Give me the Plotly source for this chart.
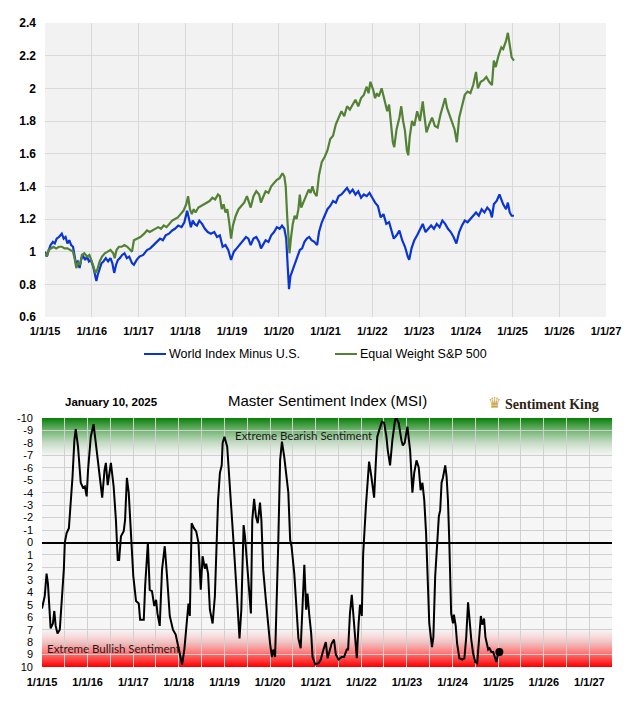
import plotly.graph_objects as go
from datetime import datetime, timedelta

W, H = 640, 701

# ---------------- data (decimal years) ----------------
world_t = [2015.00, 2015.04, 2015.08, 2015.12, 2015.17, 2015.21, 2015.25, 2015.30, 2015.36, 2015.40,
           2015.44, 2015.48, 2015.52, 2015.56, 2015.60, 2015.63, 2015.66, 2015.70, 2015.74, 2015.78,
           2015.82, 2015.86, 2015.90, 2015.94, 2015.98, 2016.03, 2016.07, 2016.10, 2016.13, 2016.17,
           2016.21, 2016.25, 2016.30, 2016.35, 2016.40, 2016.44, 2016.48, 2016.52, 2016.56, 2016.60,
           2016.65, 2016.70, 2016.75, 2016.80, 2016.86, 2016.90, 2016.96, 2017.02, 2017.10, 2017.18,
           2017.25, 2017.32, 2017.40, 2017.46, 2017.52, 2017.58, 2017.65, 2017.72, 2017.78, 2017.85,
           2017.92, 2017.98, 2018.04, 2018.08, 2018.12, 2018.16, 2018.20, 2018.25, 2018.30, 2018.36,
           2018.42, 2018.48, 2018.55, 2018.62, 2018.68, 2018.74, 2018.80, 2018.86, 2018.92, 2018.98,
           2019.04, 2019.10, 2019.16, 2019.22, 2019.30, 2019.35, 2019.40, 2019.46, 2019.52, 2019.58,
           2019.62, 2019.66, 2019.72, 2019.78, 2019.84, 2019.90, 2019.96, 2020.02, 2020.07, 2020.12,
           2020.16, 2020.19, 2020.22, 2020.25, 2020.30, 2020.35, 2020.40, 2020.45, 2020.50, 2020.55,
           2020.60, 2020.65, 2020.70, 2020.76, 2020.82, 2020.86, 2020.92, 2020.98, 2021.04, 2021.10,
           2021.16, 2021.22, 2021.28, 2021.34, 2021.40, 2021.46, 2021.52, 2021.58, 2021.64, 2021.70,
           2021.76, 2021.82, 2021.88, 2021.94, 2022.00, 2022.06, 2022.12, 2022.18, 2022.24, 2022.30,
           2022.36, 2022.42, 2022.46, 2022.52, 2022.58, 2022.64, 2022.70, 2022.76, 2022.79, 2022.84,
           2022.90, 2022.96, 2023.02, 2023.08, 2023.14, 2023.20, 2023.26, 2023.32, 2023.38, 2023.44,
           2023.50, 2023.56, 2023.62, 2023.68, 2023.74, 2023.80, 2023.86, 2023.92, 2023.98, 2024.04,
           2024.10, 2024.16, 2024.22, 2024.28, 2024.34, 2024.40, 2024.46, 2024.52, 2024.56, 2024.60,
           2024.66, 2024.72, 2024.76, 2024.80, 2024.86, 2024.90, 2024.94, 2024.98, 2025.03]
world_v = [1.00, 0.97, 1.01, 1.04, 1.06, 1.05, 1.08, 1.09, 1.11, 1.08,
           1.09, 1.05, 1.07, 1.04, 1.03, 0.98, 0.93, 0.94, 0.90, 0.96,
           0.97, 0.95, 0.97, 0.94, 0.95, 0.91, 0.86, 0.82, 0.86, 0.90,
           0.93, 0.94, 0.96, 0.94, 0.96, 0.93, 0.87, 0.92, 0.95, 0.96,
           0.98, 0.99, 0.96, 0.97, 0.93, 0.92, 0.95, 0.97, 0.98, 1.01,
           1.02, 1.04, 1.06, 1.08, 1.07, 1.10, 1.11, 1.13, 1.14, 1.16,
           1.15, 1.18, 1.25, 1.20, 1.15, 1.19, 1.17, 1.16, 1.19, 1.17,
           1.14, 1.12, 1.11, 1.12, 1.09, 1.10, 1.03, 1.04, 1.01, 0.95,
           1.00, 1.02, 1.04, 1.06, 1.09, 1.08, 1.04, 1.08, 1.09, 1.06,
           1.02, 1.04, 1.07, 1.06, 1.10, 1.12, 1.15, 1.14, 1.16, 1.14,
           1.08, 0.92, 0.77, 0.85, 0.89, 0.93, 0.96, 1.01, 1.02, 1.06,
           1.08, 1.09, 1.07, 1.06, 1.04, 1.12, 1.18, 1.22, 1.26, 1.28,
           1.31, 1.30, 1.34, 1.35, 1.37, 1.39, 1.36, 1.38, 1.35, 1.37,
           1.33, 1.35, 1.34, 1.36, 1.33, 1.30, 1.28, 1.21, 1.23, 1.17,
           1.18, 1.12, 1.08, 1.10, 1.13, 1.07, 1.03, 0.97, 0.95, 1.02,
           1.07, 1.10, 1.14, 1.17, 1.12, 1.14, 1.16, 1.14, 1.17, 1.15,
           1.19, 1.17, 1.14, 1.12, 1.09, 1.05, 1.12, 1.16, 1.19, 1.18,
           1.20, 1.22, 1.24, 1.22, 1.26, 1.24, 1.27, 1.25, 1.21, 1.29,
           1.31, 1.35, 1.32, 1.29, 1.26, 1.30, 1.24, 1.22, 1.22]

ew_t = [2015.00, 2015.04, 2015.08, 2015.13, 2015.18, 2015.24, 2015.30, 2015.36, 2015.42, 2015.48,
        2015.54, 2015.60, 2015.64, 2015.67, 2015.71, 2015.75, 2015.79, 2015.84, 2015.90, 2015.95,
        2016.00, 2016.04, 2016.08, 2016.12, 2016.17, 2016.22, 2016.28, 2016.34, 2016.40, 2016.46,
        2016.49, 2016.53, 2016.58, 2016.64, 2016.70, 2016.76, 2016.82, 2016.86, 2016.90, 2016.96,
        2017.04, 2017.12, 2017.18, 2017.24, 2017.30, 2017.36, 2017.42, 2017.48, 2017.54, 2017.60,
        2017.66, 2017.72, 2017.78, 2017.84, 2017.90, 2017.96, 2018.02, 2018.06, 2018.10, 2018.14,
        2018.18, 2018.22, 2018.28, 2018.34, 2018.40, 2018.46, 2018.52, 2018.58, 2018.64, 2018.70,
        2018.74, 2018.78, 2018.82, 2018.86, 2018.90, 2018.94, 2018.98, 2019.02, 2019.08, 2019.14,
        2019.20, 2019.26, 2019.32, 2019.36, 2019.40, 2019.46, 2019.52, 2019.58, 2019.62, 2019.66,
        2019.72, 2019.78, 2019.84, 2019.90, 2019.96, 2020.02, 2020.08, 2020.12, 2020.15, 2020.18,
        2020.21, 2020.23, 2020.26, 2020.30, 2020.34, 2020.38, 2020.42, 2020.45, 2020.48, 2020.52,
        2020.58, 2020.64, 2020.68, 2020.72, 2020.76, 2020.81, 2020.86, 2020.92, 2020.98, 2021.04,
        2021.10, 2021.16, 2021.22, 2021.28, 2021.34, 2021.40, 2021.46, 2021.52, 2021.58, 2021.64,
        2021.70, 2021.76, 2021.82, 2021.88, 2021.92, 2021.96, 2022.02, 2022.06, 2022.10, 2022.14,
        2022.20, 2022.26, 2022.32, 2022.36, 2022.40, 2022.44, 2022.47, 2022.52, 2022.58, 2022.62,
        2022.66, 2022.70, 2022.74, 2022.77, 2022.80, 2022.85, 2022.90, 2022.96, 2023.02, 2023.08,
        2023.12, 2023.16, 2023.22, 2023.28, 2023.34, 2023.40, 2023.46, 2023.52, 2023.56, 2023.60,
        2023.64, 2023.70, 2023.76, 2023.81, 2023.86, 2023.92, 2023.98, 2024.04, 2024.10, 2024.16,
        2024.22, 2024.26, 2024.32, 2024.38, 2024.44, 2024.50, 2024.56, 2024.60, 2024.64, 2024.70,
        2024.76, 2024.80, 2024.86, 2024.90, 2024.94, 2024.98, 2025.03]
ew_v = [0.99, 0.97, 1.01, 1.02, 1.03, 1.02, 1.03, 1.03, 1.02, 1.02,
        1.01, 1.00, 0.95, 0.90, 0.93, 0.92, 0.98, 0.99, 0.97, 0.98,
        0.94, 0.90, 0.87, 0.89, 0.94, 0.97, 0.99, 1.00, 1.01, 0.99,
        0.96, 1.01, 1.03, 1.03, 1.04, 1.03, 1.01, 1.00, 1.07, 1.08,
        1.09, 1.11, 1.13, 1.12, 1.13, 1.14, 1.15, 1.14, 1.16, 1.15,
        1.17, 1.19, 1.20, 1.21, 1.23, 1.25, 1.29, 1.34, 1.26, 1.23,
        1.26, 1.24, 1.27, 1.28, 1.29, 1.30, 1.31, 1.33, 1.32, 1.35,
        1.34, 1.26, 1.29, 1.24, 1.26, 1.18, 1.08, 1.16, 1.22, 1.26,
        1.28, 1.30, 1.34, 1.31, 1.27, 1.34, 1.37, 1.35, 1.30, 1.33,
        1.37, 1.36, 1.40, 1.42, 1.44, 1.45, 1.48, 1.46, 1.40, 1.22,
        1.05, 0.99, 1.08, 1.17, 1.22, 1.20, 1.26, 1.35, 1.27, 1.30,
        1.34, 1.38, 1.36, 1.40, 1.36, 1.34, 1.47, 1.55, 1.58, 1.62,
        1.69, 1.71, 1.78, 1.82, 1.86, 1.83, 1.89, 1.87, 1.90, 1.93,
        1.89, 1.94, 1.96, 2.01, 1.97, 2.04, 1.99, 1.94, 1.97, 1.95,
        2.00, 1.92, 1.86, 1.90, 1.78, 1.67, 1.64, 1.75, 1.82, 1.89,
        1.80, 1.74, 1.62, 1.59, 1.70, 1.80, 1.77, 1.86, 1.80, 1.92,
        1.82, 1.73, 1.78, 1.82, 1.77, 1.76, 1.84, 1.90, 1.94, 1.88,
        1.85, 1.80, 1.75, 1.67, 1.82, 1.89, 1.96, 1.98, 1.97, 2.02,
        2.10, 2.00, 2.04, 2.05, 2.07, 2.04, 2.02, 2.17, 2.13, 2.20,
        2.25, 2.24, 2.29, 2.34, 2.27, 2.19, 2.17]

msi_t = [2015.00, 2015.06, 2015.10, 2015.13, 2015.19, 2015.24, 2015.27, 2015.30, 2015.34, 2015.39,
         2015.44, 2015.48, 2015.50, 2015.54, 2015.59, 2015.62, 2015.67, 2015.71, 2015.74, 2015.79,
         2015.85, 2015.90, 2015.94, 2015.98, 2016.01, 2016.07, 2016.13, 2016.16, 2016.22, 2016.27,
         2016.32, 2016.37, 2016.40, 2016.44, 2016.48, 2016.51, 2016.57, 2016.62, 2016.66, 2016.69,
         2016.73, 2016.79, 2016.82, 2016.86, 2016.90, 2016.95, 2017.00, 2017.06, 2017.12, 2017.15,
         2017.23, 2017.26, 2017.32, 2017.36, 2017.41, 2017.46, 2017.50, 2017.53, 2017.58, 2017.63,
         2017.69, 2017.74, 2017.80, 2017.87, 2017.93, 2018.00, 2018.07, 2018.12, 2018.18, 2018.21,
         2018.24, 2018.28, 2018.33, 2018.38, 2018.43, 2018.48, 2018.52, 2018.57, 2018.60, 2018.64,
         2018.68, 2018.74, 2018.79, 2018.86, 2018.90, 2018.94, 2018.96, 2019.00, 2019.06, 2019.12,
         2019.18, 2019.21, 2019.27, 2019.33, 2019.37, 2019.42, 2019.45, 2019.49, 2019.53, 2019.58,
         2019.61, 2019.65, 2019.69, 2019.73, 2019.78, 2019.81, 2019.85, 2019.91, 2019.96, 2020.00,
         2020.04, 2020.07, 2020.11, 2020.15, 2020.18, 2020.22, 2020.26, 2020.31, 2020.35, 2020.40,
         2020.44, 2020.47, 2020.53, 2020.57, 2020.62, 2020.67, 2020.71, 2020.75, 2020.79, 2020.82,
         2020.86, 2020.90, 2020.93, 2020.99, 2021.06, 2021.11, 2021.17, 2021.22, 2021.26, 2021.31,
         2021.35, 2021.40, 2021.44, 2021.50, 2021.57, 2021.62, 2021.68, 2021.71, 2021.75, 2021.79,
         2021.84, 2021.90, 2021.94, 2021.97, 2022.01, 2022.04, 2022.10, 2022.14, 2022.17, 2022.22,
         2022.28, 2022.32, 2022.35, 2022.39, 2022.45, 2022.50, 2022.55, 2022.58, 2022.63, 2022.68,
         2022.74, 2022.77, 2022.82, 2022.88, 2022.91, 2022.95, 2023.01, 2023.07, 2023.12, 2023.16,
         2023.21, 2023.26, 2023.30, 2023.34, 2023.38, 2023.42, 2023.45, 2023.49, 2023.55, 2023.58,
         2023.62, 2023.66, 2023.70, 2023.73, 2023.76, 2023.79, 2023.84, 2023.87, 2023.90, 2023.93,
         2023.97, 2024.01, 2024.03, 2024.07, 2024.10, 2024.15, 2024.21, 2024.26, 2024.30, 2024.34,
         2024.38, 2024.41, 2024.45, 2024.50, 2024.54, 2024.58, 2024.62, 2024.65, 2024.69, 2024.72,
         2024.78, 2024.81, 2024.85, 2024.89, 2024.93, 2024.96, 2025.00, 2025.03]
msi_v = [5.3, 4.3, 2.5, 3.3, 6.9, 6.5, 5.5, 6.7, 7.3, 7.0,
         4.3, 2.1, 0.0, -0.75, -1.15, -2.6, -5.3, -8.2, -9.1, -7.7,
         -4.8, -4.4, -4.5, -3.7, -5.8, -8.5, -9.5, -8.6, -6.9, -5.3,
         -3.6, -5.8, -6.4, -4.6, -5.8, -6.4, -4.5, -1.8, 1.4, 1.4,
         -0.5, -0.9, -1.8, -5.2, -4.0, 0.0, 2.7, 4.7, 4.9, 6.2,
         6.2, 3.5, 0.0, 3.8, 3.9, 5.1, 4.6, 5.7, 6.7, 2.2,
         0.3, 2.7, 5.9, 7.0, 7.4, 8.6, 9.8, 8.6, 5.7, 4.9,
         5.9, -1.55, -1.15, -0.9, 0.0, 3.8, 1.1, 2.1, 1.7, 2.5,
         5.4, 6.5, 4.3, -3.4, -5.6, -6.2, -8.0, -8.5, -7.7, -4.0,
         -1.3, 0.6, 4.1, 7.7, 5.4, -1.4, -0.5, 1.1, 3.3, 5.7,
         -1.8, -3.5, -2.1, -1.55, -3.2, -1.8, 2.2, 4.7, 6.7, 8.1,
         9.2, 8.6, 9.2, 4.3, 0.0, -6.6, -8.1, -6.9, -5.4, -4.0,
         -0.2, 0.3, 2.5, 5.1, 7.7, 8.5, 4.9, 1.8, 5.4, 4.1,
         5.9, 7.3, 9.2, 9.8, 9.7, 9.4, 8.6, 8.0, 9.3, 8.6,
         8.1, 7.8, 9.0, 9.4, 9.2, 9.2, 8.6, 8.6, 5.7, 4.2,
         6.5, 9.3, 6.5, 5.0, 5.9, 0.9, -2.9, -5.0, -6.5, -5.3,
         -3.6, -6.6, -8.5, -9.0, -9.7, -9.6, -8.5, -7.4, -6.2, -8.2,
         -9.85, -10.0, -9.6, -8.2, -7.8, -8.0, -9.3, -7.4, -4.0, -5.6,
         -6.6, -6.0, -4.2, -4.8, -3.4, -0.75, 2.7, 6.5, 8.4, 7.6,
         2.7, 0.0, -2.1, -2.6, -4.8, -5.2, -6.2, -5.3, -3.4, 0.0,
         5.7, 6.5, 5.8, 6.7, 8.1, 9.3, 9.4, 9.3, 7.6, 4.8,
         7.0, 7.8, 8.9, 9.6, 9.7, 8.1, 5.9, 6.6, 6.1, 7.6,
         8.6, 8.5, 8.8, 8.8, 9.3, 9.6, 8.9, 8.8]

msi_last_date = "2025-01-10"
msi_last_value = 8.8

top_years = list(range(2015, 2028))
top_labels = ["1/1/15", "1/1/16", "1/1/17", "1/1/18", "1/1/19", "1/1/20", "1/1/21",
              "1/1/22", "1/1/23", "1/1/24", "1/1/25", "1/1/26", "1/1/27"]
msi_ticks = list(range(-10, 11))
msi_labels = [str(v) for v in msi_ticks]

series_names = ["World Index Minus U.S.", "Equal Weight S&P 500"]
series_colors = ["#0a35d0", "#538135"]


def to_date(y):
    yr = int(y)
    start = datetime(yr, 1, 1)
    days = (datetime(yr + 1, 1, 1) - start).days
    return start + timedelta(days=(y - yr) * days)


def px_x(p):
    return p / W


def px_y(p):
    return 1 - p / H


fig = go.Figure()

fig.add_trace(go.Scatter(x=[to_date(t) for t in world_t], y=world_v, mode="lines",
                         name=series_names[0], line=dict(color=series_colors[0], width=2.2),
                         xaxis="x", yaxis="y", showlegend=False))
fig.add_trace(go.Scatter(x=[to_date(t) for t in ew_t], y=ew_v, mode="lines",
                         name=series_names[1], line=dict(color=series_colors[1], width=2.2),
                         xaxis="x", yaxis="y", showlegend=False))
fig.add_trace(go.Scatter(x=[to_date(t) for t in msi_t], y=msi_v, mode="lines",
                         name="MSI", line=dict(color="#000000", width=2),
                         xaxis="x2", yaxis="y2", showlegend=False))
fig.add_trace(go.Scatter(x=[msi_last_date], y=[msi_last_value], mode="markers",
                         marker=dict(color="#000000", size=8),
                         xaxis="x2", yaxis="y2", showlegend=False))

shapes = []
# bottom background
shapes.append(dict(type="rect", xref="x2 domain", yref="y2 domain", x0=0, x1=1, y0=0, y1=1,
                   fillcolor="#f6f6f6", line=dict(width=0), layer="below"))
# gradients
N = 40
for i in range(N):
    a = (1 - i / N) ** 1.6
    y0 = -10 + 3.2 * i / N
    y1 = -10 + 3.2 * (i + 1) / N
    shapes.append(dict(type="rect", xref="x2 domain", yref="y2", x0=0, x1=1, y0=y0, y1=y1,
                       fillcolor="rgba(10,128,10,%.3f)" % a, line=dict(width=0), layer="below"))
    y0 = 10 - 3.2 * i / N
    y1 = 10 - 3.2 * (i + 1) / N
    shapes.append(dict(type="rect", xref="x2 domain", yref="y2", x0=0, x1=1, y0=y0, y1=y1,
                       fillcolor="rgba(255,0,0,%.3f)" % a, line=dict(width=0), layer="below"))

# manual legend lines
shapes.append(dict(type="line", xref="paper", yref="paper", x0=px_x(144), x1=px_x(166),
                   y0=px_y(354), y1=px_y(354), line=dict(color=series_colors[0], width=2)))
shapes.append(dict(type="line", xref="paper", yref="paper", x0=px_x(335), x1=px_x(357),
                   y0=px_y(354), y1=px_y(354), line=dict(color=series_colors[1], width=2)))

annotations = [
    dict(text=series_names[0], x=px_x(167), y=px_y(354), xref="paper", yref="paper",
         xanchor="left", yanchor="middle", showarrow=False,
         font=dict(family="Liberation Sans, Arial", size=12.5, color="#000")),
    dict(text=series_names[1], x=px_x(358), y=px_y(354), xref="paper", yref="paper",
         xanchor="left", yanchor="middle", showarrow=False,
         font=dict(family="Liberation Sans, Arial", size=12.5, color="#000")),
    dict(text="<b>January 10, 2025</b>", x=px_x(111), y=px_y(402), xref="paper", yref="paper",
         xanchor="center", yanchor="middle", showarrow=False,
         font=dict(family="Liberation Sans, Arial", size=11.5, color="#000")),
    dict(text="Master Sentiment Index (MSI)", x=px_x(327), y=px_y(401), xref="paper", yref="paper",
         xanchor="center", yanchor="middle", showarrow=False,
         font=dict(family="Liberation Sans, Arial", size=15, color="#000")),
    dict(text="♛", x=px_x(494), y=px_y(403), xref="paper", yref="paper",
         xanchor="center", yanchor="middle", showarrow=False,
         font=dict(family="DejaVu Sans", size=15, color="#c9a03a")),
    dict(text="<b>Sentiment King</b>", x=px_x(503), y=px_y(404), xref="paper", yref="paper",
         xanchor="left", yanchor="middle", showarrow=False,
         font=dict(family="Liberation Serif, Times New Roman", size=14, color="#2e2416")),
    dict(text="Extreme Bearish Sentiment", x=px_x(303), y=px_y(435), xref="paper", yref="paper",
         xanchor="center", yanchor="middle", showarrow=False,
         font=dict(family="Lato, Noto Sans", size=11.5, color="#1a1a1a")),
    dict(text="Extreme Bullish Sentiment", x=px_x(113), y=px_y(648), xref="paper", yref="paper",
         xanchor="center", yanchor="middle", showarrow=False,
         font=dict(family="Lato, Noto Sans", size=11.5, color="#1a1a1a")),
]

tick_font_b = dict(family="Liberation Sans, Arial", size=11, color="#000", weight="bold")
grid_c = "#d9d9d9"

half_years = []
half_labels = []
for y in top_years:
    half_years.append("%d-01-01" % y)
    half_labels.append(top_labels[y - 2015])
    half_years.append("%d-07-01" % y)
    half_labels.append("")

fig.update_layout(
    width=W, height=H, margin=dict(l=0, r=0, t=0, b=0, pad=0, autoexpand=False),
    paper_bgcolor="white", plot_bgcolor="#f2f2f2",
    showlegend=False,
    xaxis=dict(domain=[px_x(45), px_x(606)], type="date",
               range=["2015-01-01", "2027-01-01"],
               tickvals=["%d-01-01" % y for y in top_years], ticktext=top_labels,
               showgrid=True, gridcolor=grid_c, gridwidth=1, zeroline=False,
               showline=False, ticks="", tickfont=tick_font_b, anchor="y", automargin=False,
               ticklabelstandoff=6),
    yaxis=dict(domain=[px_y(317), px_y(23)], range=[0.6, 2.4], dtick=0.2, tick0=0.6,
               showgrid=True, gridcolor=grid_c, gridwidth=1, zeroline=False,
               showline=False, ticks="", tickfont=dict(family="Liberation Sans, Arial", size=12,
                                                        color="#000", weight="bold"),
               ticklabelstandoff=8, anchor="x", automargin=False),
    xaxis2=dict(domain=[px_x(42), px_x(612)], type="date",
                range=["2015-01-01", "2027-07-01"],
                tickvals=half_years, ticktext=half_labels,
                showgrid=True, gridcolor="#d0d0d0", gridwidth=1, zeroline=False,
                showline=False, ticks="", tickfont=tick_font_b, anchor="y2", automargin=False,
                ticklabelstandoff=7),
    yaxis2=dict(domain=[px_y(667), px_y(418)], range=[10, -10],
                tickvals=msi_ticks, ticktext=msi_labels,
                showgrid=True, gridcolor="#d0d0d0", gridwidth=1,
                zeroline=True, zerolinecolor="#000000", zerolinewidth=1.5,
                showline=False, ticks="",
                tickfont=dict(family="Liberation Sans, Arial", size=11, color="#000"),
                ticklabelstandoff=8, anchor="x2", automargin=False),
    shapes=shapes, annotations=annotations,
)

fig.write_html("out.html")
